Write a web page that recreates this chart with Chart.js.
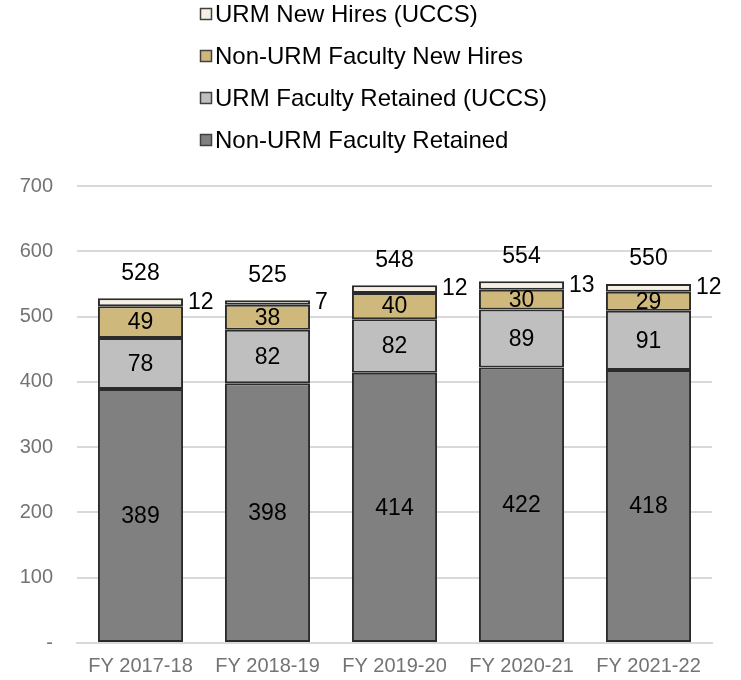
<!DOCTYPE html>
<html>
<head>
<meta charset="utf-8">
<script src="https://cdn.jsdelivr.net/npm/chart.js@4.4.1/dist/chart.umd.min.js"></script>
<style>
  html, body { margin: 0; padding: 0; background: #fff; }
  #wrap { width: 741px; height: 680px; }
</style>
</head>
<body>
<div id="wrap"><canvas id="facultyChart"></canvas></div>
<script>
// === Datos ===
const years = ['FY 2017-18', 'FY 2018-19', 'FY 2019-20', 'FY 2020-21', 'FY 2021-22'];
const nonUrmRetained = [389, 398, 414, 422, 418];
const urmRetained = [78, 82, 82, 89, 91];
const nonUrmNewHires = [49, 38, 40, 30, 29];
const urmNewHires = [12, 7, 12, 13, 12];
const totals = [528, 525, 548, 554, 550];
const yTicks = [0, 100, 200, 300, 400, 500, 600, 700];

const FONT = '"Liberation Sans", Arial, sans-serif';

// etiquetas de datos y totales
const labelsPlugin = {
    id: 'segmentLabels',
    afterDatasetsDraw(chart) {
        const ctx = chart.ctx;
        ctx.save();
        ctx.fillStyle = '#000';
        ctx.font = '23px ' + FONT;
        ctx.textBaseline = 'middle';
        chart.data.datasets.forEach((ds, i) => {
            const meta = chart.getDatasetMeta(i);
            meta.data.forEach((bar, j) => {
                const mid = (bar.y + bar.base) / 2;
                if (i === 3) {
                    ctx.textAlign = 'left';
                    ctx.fillText(ds.data[j], bar.x + bar.width / 2 + 5, mid);
                } else {
                    ctx.textAlign = 'center';
                    ctx.fillText(ds.data[j], bar.x, mid + 1);
                }
            });
        });
        const top = chart.getDatasetMeta(3);
        top.data.forEach((bar, j) => {
            ctx.textAlign = 'center';
            ctx.fillText(totals[j], bar.x, bar.y - 25);
        });
        ctx.restore();
    }
};

// leyenda vertical (orden invertido)
const legendPlugin = {
    id: 'stackLegend',
    afterDraw(chart) {
        const ctx = chart.ctx;
        const items = chart.data.datasets.slice().reverse();
        ctx.save();
        ctx.font = '24px ' + FONT;
        ctx.textBaseline = 'alphabetic';
        ctx.textAlign = 'left';
        items.forEach((ds, k) => {
            const base = 22 + k * 42;
            ctx.fillStyle = ds.backgroundColor;
            ctx.fillRect(200, base - 14, 12, 12);
            ctx.strokeStyle = '#404040';
            ctx.lineWidth = 1.5;
            ctx.strokeRect(200.5, base - 13.5, 11, 11);
            ctx.fillStyle = '#000';
            ctx.fillText(ds.label, 215, base);
        });
        ctx.restore();
    }
};

const makeSet = (label, data, color) => ({
    label: label,
    data: data,
    backgroundColor: color,
    borderColor: '#2b2b2b',
    borderWidth: 2,
    borderSkipped: false,
    barPercentage: 0.67,
    categoryPercentage: 1
});

new Chart(document.getElementById('facultyChart').getContext('2d'), {
    type: 'bar',
    data: {
        labels: years,
        datasets: [
            makeSet('Non-URM Faculty Retained', nonUrmRetained, '#808080'),
            makeSet('URM Faculty Retained (UCCS)', urmRetained, '#BFBFBF'),
            makeSet('Non-URM Faculty New Hires', nonUrmNewHires, '#CFB87C'),
            makeSet('URM New Hires (UCCS)', urmNewHires, '#F5F0E3')
        ]
    },
    options: {
        responsive: true,
        maintainAspectRatio: false,
        animation: false,
        layout: { padding: { top: 186, right: 29, bottom: 0, left: 10 } },
        plugins: {
            legend: { display: false },
            tooltip: { enabled: false }
        },
        scales: {
            x: {
                stacked: true,
                afterFit(axis) { axis.height = 37; },
                grid: { display: false, drawTicks: false },
                border: { color: '#D9D9D9', width: 2 },
                ticks: { color: '#737373', font: { family: FONT, size: 20 }, padding: 11, maxRotation: 0 }
            },
            y: {
                stacked: true,
                min: 0,
                max: 700,
                afterFit(axis) { axis.width = 67; },
                afterBuildTicks(axis) { axis.ticks = yTicks.map(v => ({ value: v })); },
                grid: { color: '#D9D9D9', lineWidth: 2, drawTicks: false },
                border: { display: false },
                ticks: {
                    color: '#737373',
                    font: { family: FONT, size: 20 },
                    padding: 24,
                    callback: v => v === 0 ? '-' : v
                }
            }
        }
    },
    plugins: [labelsPlugin, legendPlugin]
});
</script>
</body>
</html>
